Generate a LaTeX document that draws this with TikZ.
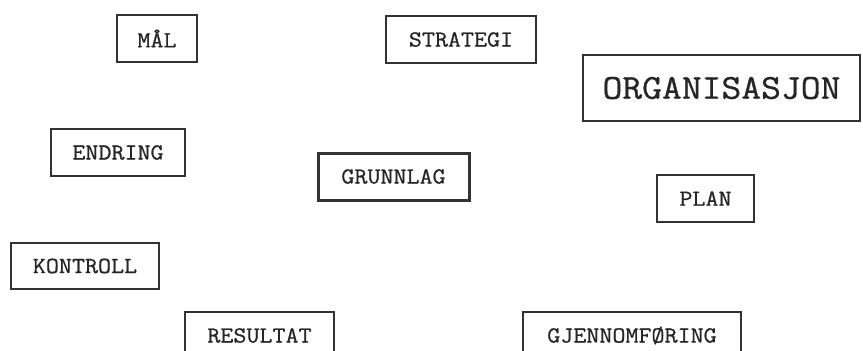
\documentclass[tikz,border=0pt]{standalone}
\usepackage{fontspec}
\newfontfamily\boxfont{Latin Modern Mono}[FakeBold=0.8,FakeStretch=1.1]
\begin{document}
\begin{tikzpicture}[x=1pt,y=-1pt,
  box/.style={draw=black!80, line width=1.1pt, inner sep=0pt, text=black!85,
    font=\boxfont\fontsize{23}{25}\selectfont},
  bigbox/.style={box, font=\boxfont\fontsize{35}{38}\selectfont},
  mainbox/.style={box, line width=3pt}]
\useasboundingbox (0,0) rectangle (863,351);
\node[box, minimum width=80pt, minimum height=47pt] (mal) at (157,38.5) {MÅL};
\node[box, minimum width=150pt, minimum height=47pt] (strategi) at (461,39.5) {STRATEGI};
\node[bigbox, minimum width=277pt, minimum height=66pt] (org) at (721.5,88) {ORGANISASJON};
\node[box, minimum width=134pt, minimum height=47pt] (endring) at (118,152.5) {ENDRING};
\node[mainbox, minimum width=151pt, minimum height=47pt] (grunnlag) at (393.5,176.5) {GRUNNLAG};
\node[box, minimum width=97pt, minimum height=47pt] (plan) at (705.5,198.5) {PLAN};
\node[box, minimum width=148pt, minimum height=46pt] (kontroll) at (85,266) {KONTROLL};
\node[box, minimum width=149pt, minimum height=47pt] (resultat) at (259.5,335.5) {RESULTAT};
\node[box, minimum width=218pt, minimum height=47pt] (gjennom) at (632,335.5) {GJENNOMFØRING};
\end{tikzpicture}
\end{document}
